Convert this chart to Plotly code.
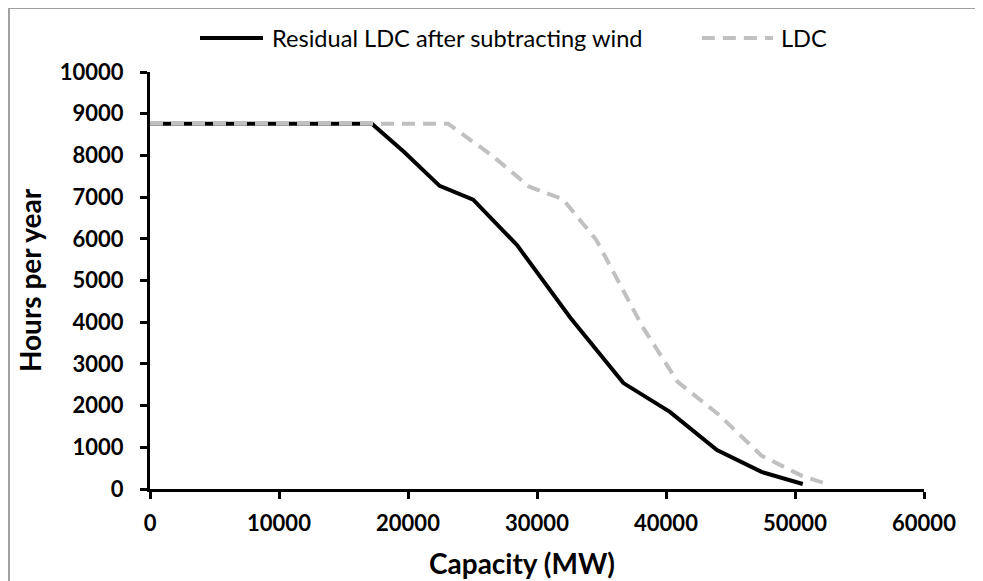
import plotly.graph_objects as go

# Residual LDC after subtracting wind
residual_capacity = [0, 17200, 19700, 22450, 25050, 28450, 32600, 36700, 40300, 43950, 47400, 50600]
residual_hours = [8760, 8760, 8080, 7270, 6940, 5850, 4100, 2540, 1850, 935, 410, 120]

# LDC
ldc_capacity = [0, 23100, 26500, 29400, 32000, 34600, 38200, 40900, 44100, 47400, 50500, 52700]
ldc_hours = [8760, 8760, 8000, 7250, 6950, 5970, 3880, 2570, 1780, 800, 320, 100]

series_names = ["Residual LDC after subtracting wind", "LDC"]
x_title = "Capacity (MW)"
y_title = "Hours per year"

FONT = "Lato, 'Open Sans', sans-serif"

fig = go.Figure()
fig.add_trace(go.Scatter(x=residual_capacity, y=residual_hours, mode="lines",
                         name=series_names[0],
                         line=dict(color="black", width=4)))
fig.add_trace(go.Scatter(x=ldc_capacity, y=ldc_hours, mode="lines",
                         name=series_names[1],
                         line=dict(color="#c0c0c0", width=4, dash="13px,8px")))

# manual legend (paper coords relative to plot area)
ly = 1.0815
fig.add_shape(type="line", xref="paper", yref="paper", x0=0.0646, x1=0.146, y0=ly, y1=ly,
              line=dict(color="black", width=4))
fig.add_shape(type="line", xref="paper", yref="paper", x0=0.713, x1=0.805, y0=ly, y1=ly,
              line=dict(color="#c0c0c0", width=4, dash="13px,8px"))
fig.add_annotation(xref="paper", yref="paper", x=0.155, y=ly, text=series_names[0],
                   showarrow=False, xanchor="left", yanchor="middle",
                   font=dict(family=FONT, size=23.6, color="black"))
fig.add_annotation(xref="paper", yref="paper", x=0.8127, y=ly, text=series_names[1],
                   showarrow=False, xanchor="left", yanchor="middle",
                   font=dict(family=FONT, size=23.6, color="black"))

# axis titles
fig.add_annotation(xref="paper", yref="paper", x=0.48, y=-0.1775, text=x_title,
                   showarrow=False, xanchor="center", yanchor="middle",
                   font=dict(family=FONT, size=28, color="black", weight="bold"))
fig.add_annotation(xref="paper", yref="paper", x=-0.155, y=0.501, text=y_title,
                   showarrow=False, xanchor="center", yanchor="middle", textangle=-90,
                   font=dict(family=FONT, size=28, color="black", weight="bold"))

# outer border (top and left only, as in cropped reference)
bx = -0.1822
by = 1.1535
fig.add_shape(type="line", xref="paper", yref="paper", x0=bx, x1=1.08, y0=by, y1=by,
              line=dict(color="#a0a0a0", width=2))
fig.add_shape(type="line", xref="paper", yref="paper", x0=bx, x1=bx, y0=by, y1=-0.23,
              line=dict(color="#a0a0a0", width=2))

# the page adds an 8px body margin, so the figure is 8px smaller on each side
fig.update_layout(
    width=975, height=573,
    margin=dict(l=142, r=59, t=64, b=92),
    paper_bgcolor="white", plot_bgcolor="white",
    showlegend=False,
    font=dict(family=FONT, color="black"),
)
fig.update_xaxes(
    range=[0, 60000], dtick=10000, tick0=0, tickformat="d",
    showgrid=False, zeroline=False, automargin=False,
    showline=True, linecolor="black", linewidth=3,
    ticks="outside", ticklen=7, tickwidth=3, tickcolor="black",
    ticklabelstandoff=6,
    tickfont=dict(family=FONT, size=22, weight="bold"),
)
fig.update_yaxes(
    range=[0, 10000], dtick=1000, tick0=0, tickformat="d",
    showgrid=False, zeroline=False, automargin=False,
    showline=True, linecolor="black", linewidth=3,
    ticks="outside", ticklen=7, tickwidth=3, tickcolor="black",
    ticklabelstandoff=12,
    tickfont=dict(family=FONT, size=22, weight="bold"),
)

fig.write_html("out.html")
